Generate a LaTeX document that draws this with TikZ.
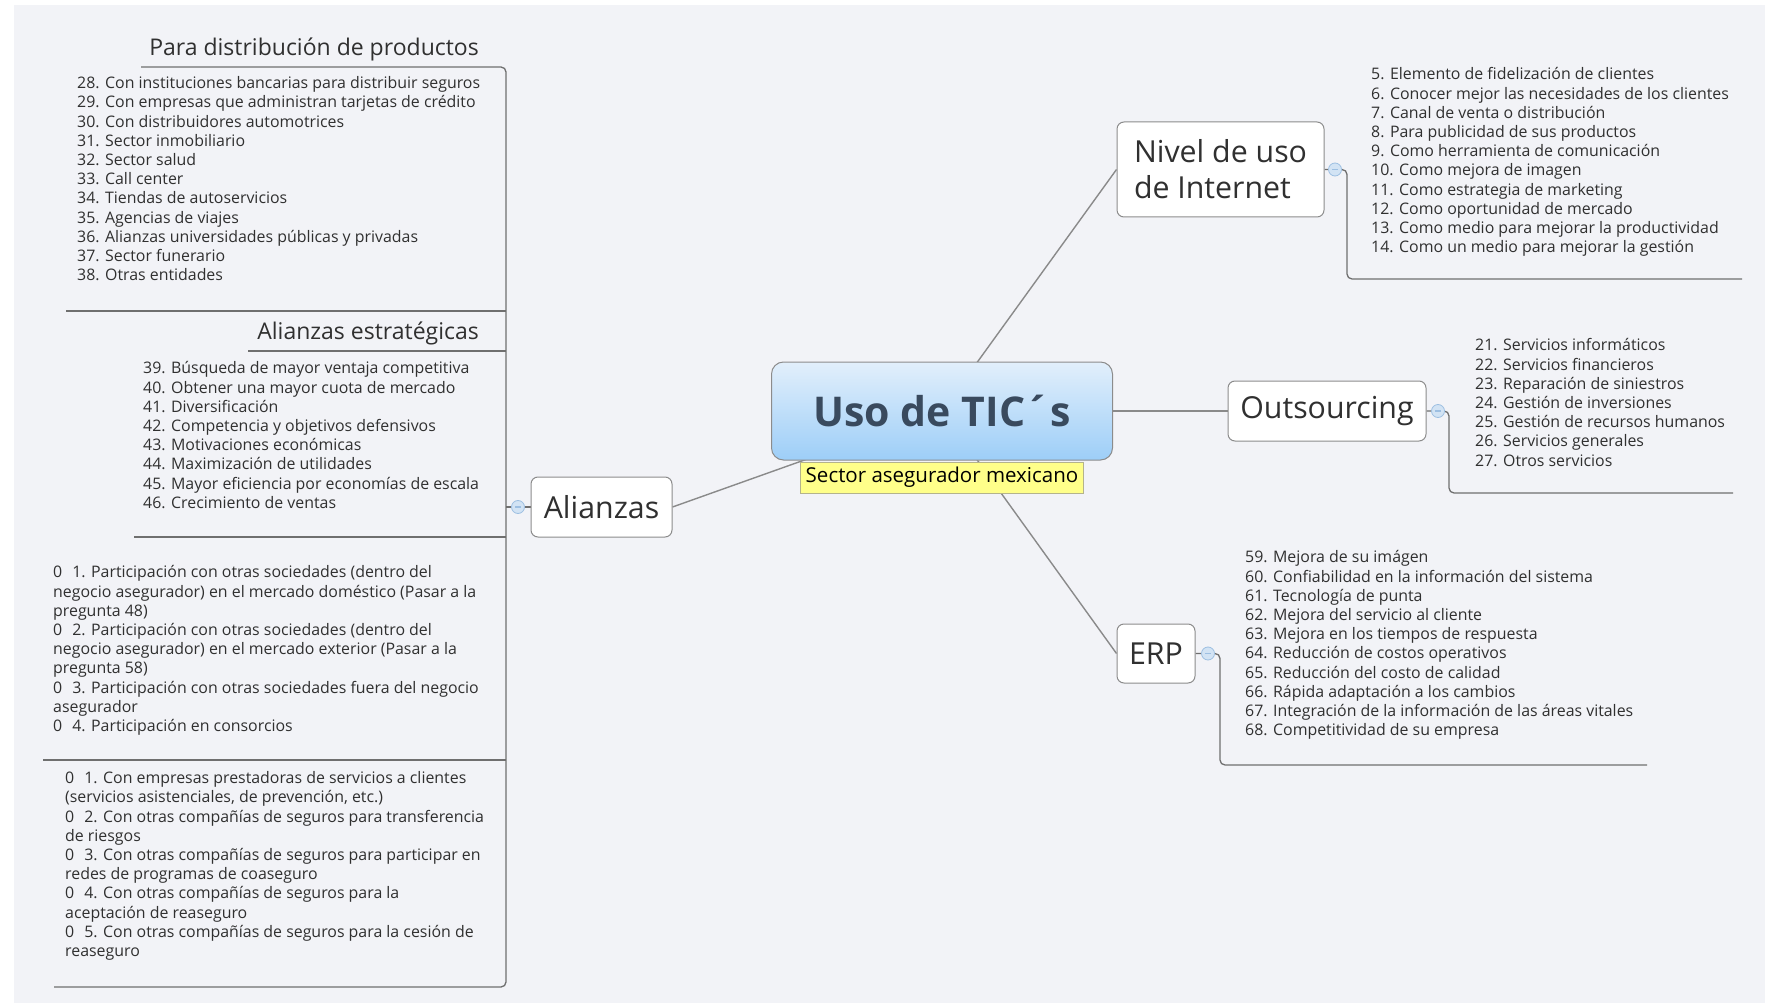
\documentclass[tikz,border=0pt]{standalone}
\usepackage{fontspec}
\setmainfont{Open Sans}
\usetikzlibrary{positioning}
\pgfdeclarelayer{edges}
\pgfsetlayers{edges,main}
\definecolor{mapbg}{HTML}{F2F3F7}
\definecolor{linegray}{HTML}{6F6F6F}
\definecolor{edgegray}{HTML}{8A8A8A}
\definecolor{boxgray}{HTML}{8C8C8C}
\definecolor{txtgray}{HTML}{303030}
\definecolor{titleblue}{HTML}{394A5E}
\definecolor{topblue}{HTML}{E2EFFB}
\definecolor{botblue}{HTML}{9DCEF8}
\definecolor{noteyellow}{HTML}{FFFF8A}
\definecolor{notebrown}{HTML}{B4B38C}
\definecolor{knobblue}{HTML}{D2E3F4}
\definecolor{knobline}{HTML}{9DBFE2}

\begin{document}
\begin{tikzpicture}[x=1pt,y=-1pt]
    \tikzstyle{topic} = [rectangle, rounded corners=7, draw=boxgray, fill=white, line width=1, text=txtgray, align=center, font=\fontsize{30.3}{36}\selectfont]
    \tikzstyle{items} = [anchor=north west, inner sep=0, align=left, text=txtgray, font=\fontsize{15.9}{19.2}\selectfont]
    \tikzstyle{heading} = [anchor=east, inner sep=0, text=txtgray, font=\fontsize{23}{27}\selectfont]
    \tikzstyle{spine} = [draw=linegray, line width=1.3, rounded corners=5]
    \tikzstyle{line} = [draw=edgegray, line width=1.4]
    \tikzstyle{knob} = [circle, draw=knobline, fill=knobblue, line width=0.8, minimum size=13, inner sep=0]
    \useasboundingbox (0,0) rectangle (1765,1003);
    \begin{pgfonlayer}{edges}
        \fill[mapbg] (14,5) rectangle (1765,1003);
    \end{pgfonlayer}
    % central topic
    \node[topic, rounded corners=12, top color=topblue, bottom color=botblue, minimum width=341, minimum height=98, text=titleblue, font=\fontsize{41}{44}\bfseries\selectfont] (tic) at (942,411) {Uso de TIC´s};
    \node[rectangle, draw=notebrown, fill=noteyellow, line width=0.8, minimum width=283, minimum height=31, inner sep=0, font=\fontsize{20.5}{22}\selectfont] (sector) at (942,477.5) {Sector asegurador mexicano};
    % main branches
    \node[topic, minimum width=207, minimum height=95, align=left] (nivel) at (1220.5,169.5) {Nivel de uso\\de Internet};
    \node[topic, minimum width=198, minimum height=60] (outs) at (1327,411) {Outsourcing};
    \node[topic, minimum width=78, minimum height=59] (erp) at (1156,653.5) {ERP};
    \node[topic, minimum width=141, minimum height=60] (ali) at (601.5,507) {Alianzas};
    \node[knob] (kniv) at (1335,169.5) {\color{knobline}\rule{6pt}{1.2pt}};
    \node[knob] (kout) at (1438,411) {\color{knobline}\rule{6pt}{1.2pt}};
    \node[knob] (kerp) at (1208,653.5) {\color{knobline}\rule{6pt}{1.2pt}};
    \node[knob] (kali) at (518,507) {\color{knobline}\rule{6pt}{1.2pt}};
    % right lists
    \node[items] (nivlist) at (1371,67.5) {5. Elemento de fidelización de clientes\\6. Conocer mejor las necesidades de los clientes\\7. Canal de venta o distribución\\8. Para publicidad de sus productos\\9. Como herramienta de comunicación\\10. Como mejora de imagen\\11. Como estrategia de marketing\\12. Como oportunidad de mercado\\13. Como medio para mejorar la productividad\\14. Como un medio para mejorar la gestión};
    \node[items] (outlist) at (1475,338.5) {21. Servicios informáticos\\22. Servicios financieros\\23. Reparación de siniestros\\24. Gestión de inversiones\\25. Gestión de recursos humanos\\26. Servicios generales\\27. Otros servicios};
    \node[items] (erplist) at (1245,550.5) {59. Mejora de su imágen\\60. Confiabilidad en la información del sistema\\61. Tecnología de punta\\62. Mejora del servicio al cliente\\63. Mejora en los tiempos de respuesta\\64. Reducción de costos operativos\\65. Reducción del costo de calidad\\66. Rápida adaptación a los cambios\\67. Integración de la información de las áreas vitales\\68. Competitividad de su empresa};
    % left lists
    \node[heading] (distrib) at (479,49) {Para distribución de productos};
    \node[items] (distlist) at (77,76.5) {28. Con instituciones bancarias para distribuir seguros\\29. Con empresas que administran tarjetas de crédito\\30. Con distribuidores automotrices\\31. Sector inmobiliario\\32. Sector salud\\33. Call center\\34. Tiendas de autoservicios\\35. Agencias de viajes\\36. Alianzas universidades públicas y privadas\\37. Sector funerario\\38. Otras entidades};
    \node[heading] (estrat) at (479,333) {Alianzas estratégicas};
    \node[items] (estlist) at (143,361.5) {39. Búsqueda de mayor ventaja competitiva\\40. Obtener una mayor cuota de mercado\\41. Diversificación\\42. Competencia y objetivos defensivos\\43. Motivaciones económicas\\44. Maximización de utilidades\\45. Mayor eficiencia por economías de escala\\46. Crecimiento de ventas};
    \begin{scope}
        \clip (0,540) rectangle (486,995);
        \node[items] (partlist) at (53,565.5) {0\hspace{10pt}1. Participación con otras sociedades (dentro del\\negocio asegurador) en el mercado doméstico (Pasar a la\\pregunta 48)\\0\hspace{10pt}2. Participación con otras sociedades (dentro del\\negocio asegurador) en el mercado exterior (Pasar a la\\pregunta 58)\\0\hspace{10pt}3. Participación con otras sociedades fuera del negocio\\asegurador\\0\hspace{10pt}4. Participación en consorcios};
        \node[items] (cialist) at (65,771.5) {0\hspace{10pt}1. Con empresas prestadoras de servicios a clientes\\(servicios asistenciales, de prevención, etc.)\\0\hspace{10pt}2. Con otras compañías de seguros para transferencia\\de riesgos\\0\hspace{10pt}3. Con otras compañías de seguros para participar en\\redes de programas de coaseguro\\0\hspace{10pt}4. Con otras compañías de seguros para la\\aceptación de reaseguro\\0\hspace{10pt}5. Con otras compañías de seguros para la cesión de\\reaseguro};
    \end{scope}
    % spine corners
    \coordinate (lspine) at (506,507);
    \coordinate (ltop) at (506,67);
    \coordinate (lbot) at (506,987);
    \coordinate (nivturn) at (1347,169.5);
    \coordinate (nivend) at (1742,279);
    \coordinate (outturn) at (1449,411);
    \coordinate (outend) at (1733,493);
    \coordinate (erpturn) at (1220,653.5);
    \coordinate (erpend) at (1647,765);
    \begin{pgfonlayer}{edges}
        \draw[line] (tic.center) to (nivel.west);
        \draw[line] (tic.center) to (outs.west);
        \draw[line] (tic.center) to (erp.west);
        \draw[line] (tic.center) to (ali.east);
        \draw[spine] (nivel.east) -- (nivturn) |- (nivend);
        \draw[spine] (outs.east) -- (outturn) |- (outend);
        \draw[spine] (erp.east) -- (erpturn) |- (erpend);
        \draw[spine] (ali.west) -- (lspine);
        \draw[spine] (141,67) -- (ltop) -- (lbot) -- (54,987);
        \draw[spine] (66,311) -- (506,311);
        \draw[spine] (248,351) -- (506,351);
        \draw[spine] (134,537) -- (506,537);
        \draw[spine] (43,760) -- (506,760);
    \end{pgfonlayer}
\end{tikzpicture}
\end{document}
